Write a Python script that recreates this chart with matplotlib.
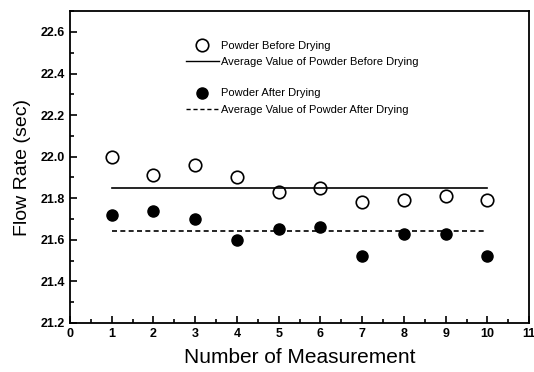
import matplotlib
matplotlib.use("Agg")
import matplotlib.pyplot as plt
from matplotlib.lines import Line2D
from matplotlib.ticker import MultipleLocator

plt.rcParams['font.family'] = ['Liberation Sans', 'DejaVu Sans']

# data
measurement = [1, 2, 3, 4, 5, 6, 7, 8, 9, 10]
before = [22.00, 21.91, 21.96, 21.90, 21.83, 21.85, 21.78, 21.79, 21.81, 21.79]
after = [21.72, 21.74, 21.70, 21.60, 21.65, 21.66, 21.52, 21.63, 21.63, 21.52]
avg_before = 21.85
avg_after = 21.64

fig = plt.figure(figsize=(5.34, 3.72), dpi=100)
ax = fig.add_axes([0.131, 0.132, 0.860, 0.838])

ax.plot(measurement, before, 'o', mfc='white', mec='black', mew=1.2, ms=9)
ax.plot(measurement, after, 'o', color='black', ms=8)
ax.plot([measurement[0], measurement[-1]], [avg_before, avg_before], '-', color='black', lw=1.2)
ax.plot([measurement[0], measurement[-1]], [avg_after, avg_after], '--', color='black', lw=1.2, dashes=(3, 2))

ax.set_xlim(0, 11)
ax.set_ylim(21.2, 22.7)
ax.xaxis.set_major_locator(MultipleLocator(1))
ax.xaxis.set_minor_locator(MultipleLocator(0.5))
ax.yaxis.set_minor_locator(MultipleLocator(0.1))
ax.set_yticks([21.2, 21.4, 21.6, 21.8, 22.0, 22.2, 22.4, 22.6])
ax.tick_params(which='both', direction='in', width=1.2)
ax.tick_params(which='major', length=5, labelsize=9)
ax.tick_params(which='minor', length=3)
for lab in ax.get_xticklabels() + ax.get_yticklabels():
    lab.set_fontweight('bold')
for sp in ax.spines.values():
    sp.set_linewidth(1.3)

ax.set_xlabel('Number of Measurement', fontsize=15, labelpad=6)
ax.set_ylabel('Flow Rate (sec)', fontsize=14, labelpad=7)

h1 = [Line2D([], [], ls='none', marker='o', mfc='white', mec='black', mew=1.2, ms=9),
      Line2D([], [], ls='-', color='black', lw=1)]
l1 = ['Powder Before Drying', 'Average Value of Powder Before Drying']
h2 = [Line2D([], [], ls='none', marker='o', color='black', ms=8),
      Line2D([], [], ls='--', color='black', lw=1, dashes=(3, 2))]
l2 = ['Powder After Drying', 'Average Value of Powder After Drying']

kw = dict(loc='upper left', frameon=False, fontsize=8, handlelength=3,
          handletextpad=0.2, labelspacing=0.55, borderpad=0, borderaxespad=0)
leg1 = ax.legend(h1, l1, bbox_to_anchor=(0.252, 0.905), **kw)
ax.add_artist(leg1)
ax.legend(h2, l2, bbox_to_anchor=(0.252, 0.752), **kw)

fig.savefig('out.png', dpi=100)
